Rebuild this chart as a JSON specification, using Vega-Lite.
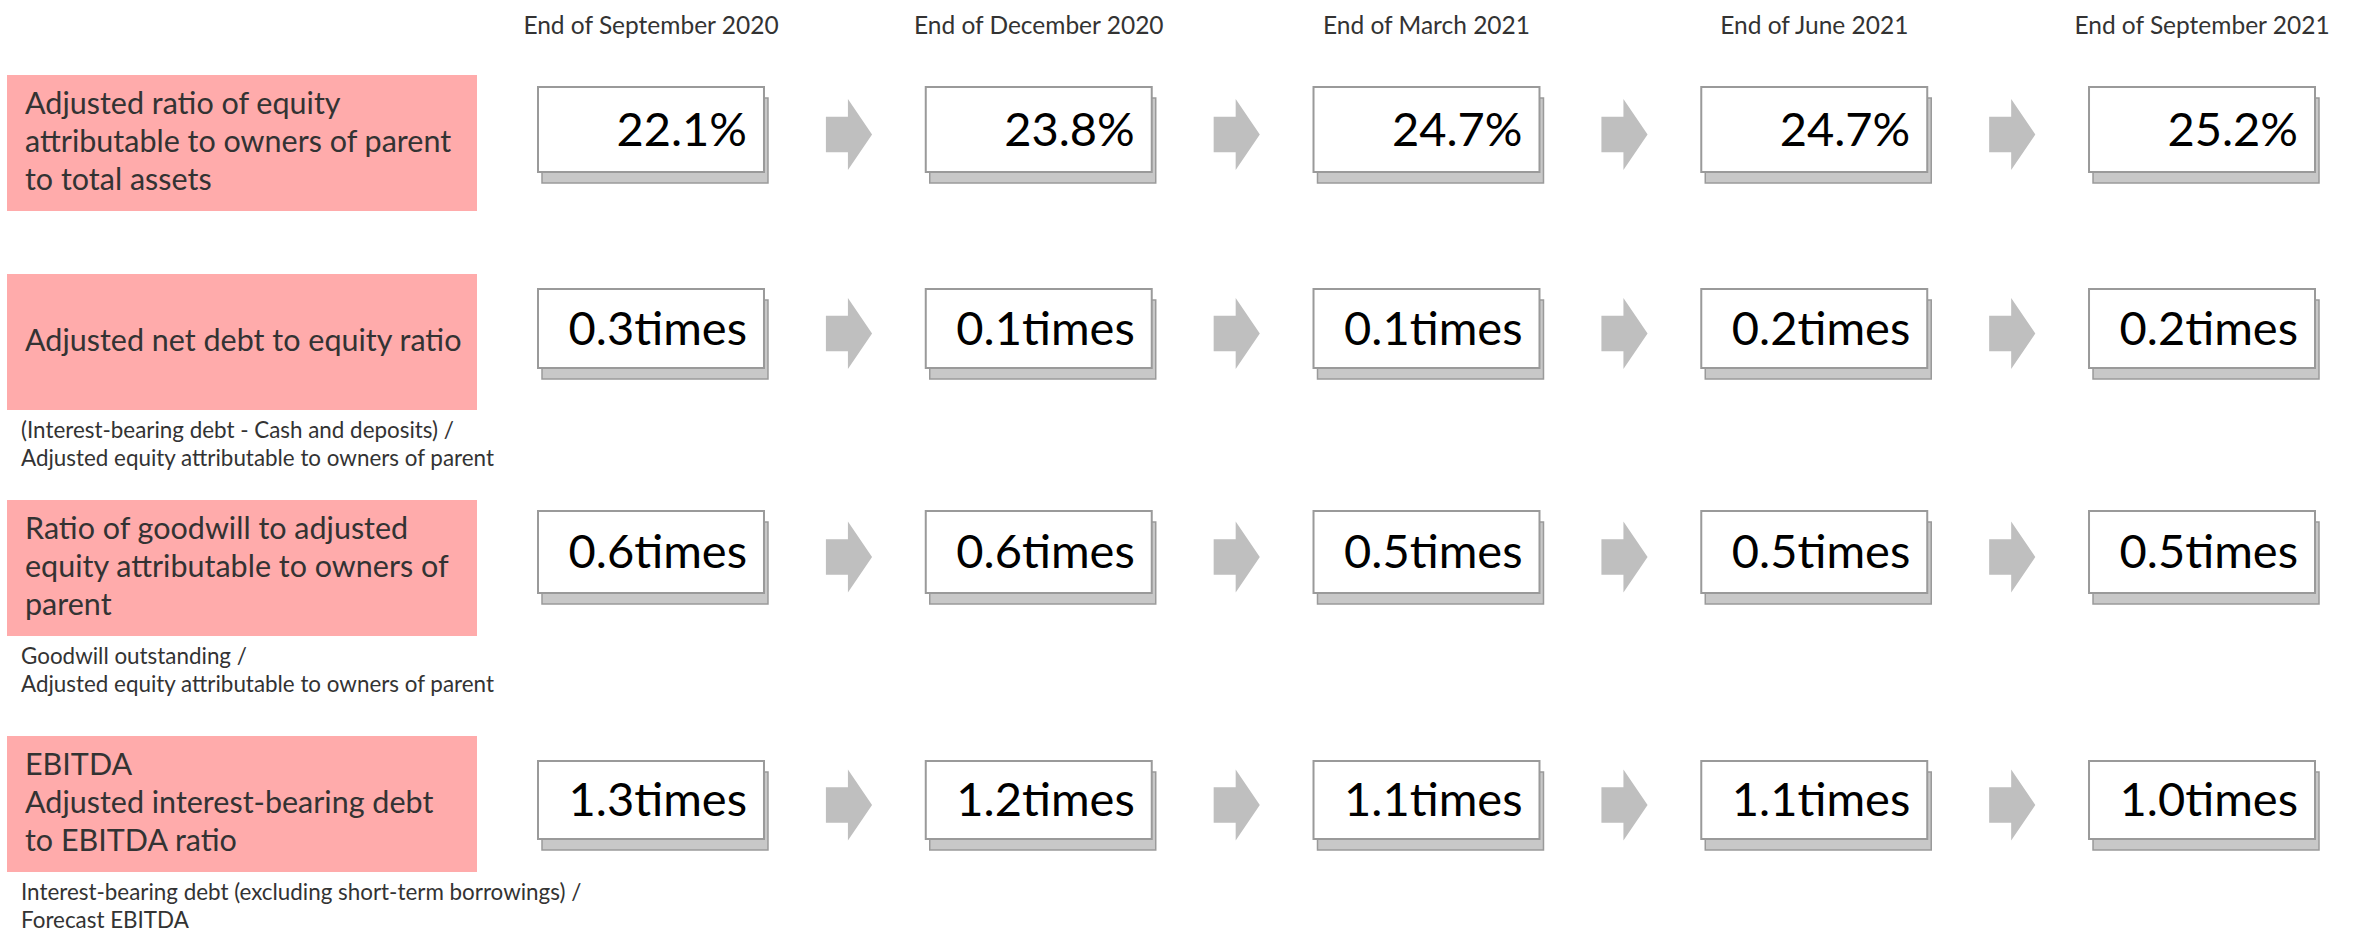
{
  "$schema": "https://vega.github.io/schema/vega-lite/v6.json",
  "background": "white",
  "padding": {"left": 7, "top": 0, "right": 0, "bottom": 0},
  "config": {"view": {"stroke": null}, "concat": {"spacing": 0}},
  "datasets": {
    "metrics": [
      {"metric": "equity", "name": "Adjusted ratio of equity\nattributable to owners of parent\nto total assets", "note": ""},
      {"metric": "netde", "name": "Adjusted net debt to equity ratio", "note": "(Interest-bearing debt - Cash and deposits) /\nAdjusted equity attributable to owners of parent"},
      {"metric": "goodwill", "name": "Ratio of goodwill to adjusted\nequity attributable to owners of\nparent", "note": "Goodwill outstanding /\nAdjusted equity attributable to owners of parent"},
      {"metric": "ebitda", "name": "EBITDA\nAdjusted interest-bearing debt\nto EBITDA ratio", "note": "Interest-bearing debt (excluding short-term borrowings) /\nForecast EBITDA"}
    ],
    "values": [
      {"metric": "equity", "period": "End of September 2020", "value": 22.1, "label": "22.1%"},
      {"metric": "equity", "period": "End of December 2020", "value": 23.8, "label": "23.8%"},
      {"metric": "equity", "period": "End of March 2021", "value": 24.7, "label": "24.7%"},
      {"metric": "equity", "period": "End of June 2021", "value": 24.7, "label": "24.7%"},
      {"metric": "equity", "period": "End of September 2021", "value": 25.2, "label": "25.2%"},
      {"metric": "netde", "period": "End of September 2020", "value": 0.3, "label": "0.3times"},
      {"metric": "netde", "period": "End of December 2020", "value": 0.1, "label": "0.1times"},
      {"metric": "netde", "period": "End of March 2021", "value": 0.1, "label": "0.1times"},
      {"metric": "netde", "period": "End of June 2021", "value": 0.2, "label": "0.2times"},
      {"metric": "netde", "period": "End of September 2021", "value": 0.2, "label": "0.2times"},
      {"metric": "goodwill", "period": "End of September 2020", "value": 0.6, "label": "0.6times"},
      {"metric": "goodwill", "period": "End of December 2020", "value": 0.6, "label": "0.6times"},
      {"metric": "goodwill", "period": "End of March 2021", "value": 0.5, "label": "0.5times"},
      {"metric": "goodwill", "period": "End of June 2021", "value": 0.5, "label": "0.5times"},
      {"metric": "goodwill", "period": "End of September 2021", "value": 0.5, "label": "0.5times"},
      {"metric": "ebitda", "period": "End of September 2020", "value": 1.3, "label": "1.3times"},
      {"metric": "ebitda", "period": "End of December 2020", "value": 1.2, "label": "1.2times"},
      {"metric": "ebitda", "period": "End of March 2021", "value": 1.1, "label": "1.1times"},
      {"metric": "ebitda", "period": "End of June 2021", "value": 1.1, "label": "1.1times"},
      {"metric": "ebitda", "period": "End of September 2021", "value": 1.0, "label": "1.0times"}
    ]
  },
  "spacing": 0,
  "vconcat": [
    {
      "width": 2308, "height": 54,
      "data": {"name": "values"},
      "transform": [{"filter": "datum.metric == 'equity'"}],
      "mark": {"type": "text", "baseline": "middle", "font": "Lato", "fontSize": 24.5, "fill": "#333333"},
      "encoding": {
        "x": {"field": "period", "type": "nominal", "axis": null, "scale": {"type": "band", "domain": ["End of September 2020", "End of December 2020", "End of March 2021", "End of June 2021", "End of September 2021"], "range": [531, 2308], "paddingInner": 0.4172, "paddingOuter": 0}},
        "text": {"field": "period"}
      }
    },
    {
      "bounds": "flush", "spacing": 61,
      "hconcat": [
        {
          "width": 470, "height": 220,
          "data": {"name": "metrics"},
          "transform": [{"filter": "datum.metric == 'equity'"}],
          "encoding": {
            "x": {"field": "metric", "type": "nominal", "axis": null, "scale": {"paddingInner": 0, "paddingOuter": 0}},
            "y": {"field": "metric", "type": "nominal", "axis": null, "scale": {"range": [21, 157], "paddingInner": 0, "paddingOuter": 0}}
          },
          "layer": [
            {"mark": {"type": "rect", "fill": "#ffabab"}},
            {"mark": {"type": "text", "align": "left", "baseline": "middle", "dx": 18, "dy": -38, "font": "Lato", "fontSize": 30.5, "lineHeight": 38, "lineBreak": "\n", "fill": "#333333"},
             "encoding": {"x": {"field": "metric", "type": "nominal", "axis": null, "bandPosition": 0, "scale": {"paddingInner": 0, "paddingOuter": 0}}, "text": {"field": "name"}}}
          ]
        },
        {
          "width": 1777, "height": 220,
          "data": {"name": "values"},
          "transform": [{"filter": "datum.metric == 'equity'"}],
          "encoding": {
            "x": {"field": "period", "type": "nominal", "axis": null, "scale": {"type": "band", "domain": ["End of September 2020", "End of December 2020", "End of March 2021", "End of June 2021", "End of September 2021"], "paddingInner": 0.4172, "paddingOuter": 0}},
            "y": {"field": "metric", "type": "nominal", "axis": null, "scale": {"range": [33, 118], "paddingInner": 0, "paddingOuter": 0}}
          },
          "layer": [
            {"mark": {"type": "rect", "fill": "#c8c8c8", "stroke": "#9a9a9a", "strokeWidth": 1.5, "xOffset": 4, "x2Offset": 4, "yOffset": 11, "y2Offset": 11}},
            {"mark": {"type": "rect", "fill": "white", "stroke": "#9a9a9a", "strokeWidth": 2}},
            {"transform": [{"filter": "datum.period != 'End of September 2021'"}],
             "mark": {"type": "point", "shape": "M -0.65 -0.5 L -0.03 -0.5 L -0.03 -1 L 0.65 0 L -0.03 1 L -0.03 0.5 L -0.65 0.5 Z", "size": 5041, "filled": true, "fill": "#bfbfbf", "strokeWidth": 0, "opacity": 1, "xOffset": 85, "yOffset": 5},
             "encoding": {"x": {"field": "period", "type": "nominal", "axis": null, "bandPosition": 1, "scale": {"type": "band", "domain": ["End of September 2020", "End of December 2020", "End of March 2021", "End of June 2021", "End of September 2021"], "paddingInner": 0.4172, "paddingOuter": 0}}}},
            {"mark": {"type": "text", "align": "right", "baseline": "middle", "dx": -17, "dy": 2, "font": "Lato", "fontSize": 47, "fill": "#000000"},
             "encoding": {"x": {"field": "period", "type": "nominal", "axis": null, "bandPosition": 1, "scale": {"type": "band", "domain": ["End of September 2020", "End of December 2020", "End of March 2021", "End of June 2021", "End of September 2021"], "paddingInner": 0.4172, "paddingOuter": 0}}, "text": {"field": "label"}}}
          ]
        }
      ]
    },
    {
      "bounds": "flush", "spacing": 61,
      "hconcat": [
        {
          "width": 470, "height": 226,
          "data": {"name": "metrics"},
          "transform": [{"filter": "datum.metric == 'netde'"}],
          "encoding": {
            "x": {"field": "metric", "type": "nominal", "axis": null, "scale": {"paddingInner": 0, "paddingOuter": 0}},
            "y": {"field": "metric", "type": "nominal", "axis": null, "scale": {"range": [0, 136], "paddingInner": 0, "paddingOuter": 0}}
          },
          "layer": [
            {"mark": {"type": "rect", "fill": "#ffabab"}},
            {"mark": {"type": "text", "align": "left", "baseline": "middle", "dx": 18, "dy": 0, "font": "Lato", "fontSize": 30.5, "lineHeight": 38, "lineBreak": "\n", "fill": "#333333"},
             "encoding": {"x": {"field": "metric", "type": "nominal", "axis": null, "bandPosition": 0, "scale": {"paddingInner": 0, "paddingOuter": 0}}, "text": {"field": "name"}}},
            {"mark": {"type": "text", "align": "left", "baseline": "top", "dx": 14, "dy": 10, "font": "Lato", "fontSize": 22.4, "lineHeight": 28, "lineBreak": "\n", "fill": "#333333"},
             "encoding": {"x": {"field": "metric", "type": "nominal", "axis": null, "bandPosition": 0, "scale": {"paddingInner": 0, "paddingOuter": 0}},
                          "y": {"field": "metric", "type": "nominal", "axis": null, "bandPosition": 1, "scale": {"range": [0, 136], "paddingInner": 0, "paddingOuter": 0}},
                          "text": {"field": "note"}}}
          ]
        },
        {
          "width": 1777, "height": 226,
          "data": {"name": "values"},
          "transform": [{"filter": "datum.metric == 'netde'"}],
          "encoding": {
            "x": {"field": "period", "type": "nominal", "axis": null, "scale": {"type": "band", "domain": ["End of September 2020", "End of December 2020", "End of March 2021", "End of June 2021", "End of September 2021"], "paddingInner": 0.4172, "paddingOuter": 0}},
            "y": {"field": "metric", "type": "nominal", "axis": null, "scale": {"range": [15, 94], "paddingInner": 0, "paddingOuter": 0}}
          },
          "layer": [
            {"mark": {"type": "rect", "fill": "#c8c8c8", "stroke": "#9a9a9a", "strokeWidth": 1.5, "xOffset": 4, "x2Offset": 4, "yOffset": 11, "y2Offset": 11}},
            {"mark": {"type": "rect", "fill": "white", "stroke": "#9a9a9a", "strokeWidth": 2}},
            {"transform": [{"filter": "datum.period != 'End of September 2021'"}],
             "mark": {"type": "point", "shape": "M -0.65 -0.5 L -0.03 -0.5 L -0.03 -1 L 0.65 0 L -0.03 1 L -0.03 0.5 L -0.65 0.5 Z", "size": 5041, "filled": true, "fill": "#bfbfbf", "strokeWidth": 0, "opacity": 1, "xOffset": 85, "yOffset": 5},
             "encoding": {"x": {"field": "period", "type": "nominal", "axis": null, "bandPosition": 1, "scale": {"type": "band", "domain": ["End of September 2020", "End of December 2020", "End of March 2021", "End of June 2021", "End of September 2021"], "paddingInner": 0.4172, "paddingOuter": 0}}}},
            {"mark": {"type": "text", "align": "right", "baseline": "middle", "dx": -17, "dy": 2, "font": "Lato", "fontSize": 47, "fill": "#000000"},
             "encoding": {"x": {"field": "period", "type": "nominal", "axis": null, "bandPosition": 1, "scale": {"type": "band", "domain": ["End of September 2020", "End of December 2020", "End of March 2021", "End of June 2021", "End of September 2021"], "paddingInner": 0.4172, "paddingOuter": 0}}, "text": {"field": "label"}}}
          ]
        }
      ]
    },
    {
      "bounds": "flush", "spacing": 61,
      "hconcat": [
        {
          "width": 470, "height": 236,
          "data": {"name": "metrics"},
          "transform": [{"filter": "datum.metric == 'goodwill'"}],
          "encoding": {
            "x": {"field": "metric", "type": "nominal", "axis": null, "scale": {"paddingInner": 0, "paddingOuter": 0}},
            "y": {"field": "metric", "type": "nominal", "axis": null, "scale": {"range": [0, 136], "paddingInner": 0, "paddingOuter": 0}}
          },
          "layer": [
            {"mark": {"type": "rect", "fill": "#ffabab"}},
            {"mark": {"type": "text", "align": "left", "baseline": "middle", "dx": 18, "dy": -38, "font": "Lato", "fontSize": 30.5, "lineHeight": 38, "lineBreak": "\n", "fill": "#333333"},
             "encoding": {"x": {"field": "metric", "type": "nominal", "axis": null, "bandPosition": 0, "scale": {"paddingInner": 0, "paddingOuter": 0}}, "text": {"field": "name"}}},
            {"mark": {"type": "text", "align": "left", "baseline": "top", "dx": 14, "dy": 10, "font": "Lato", "fontSize": 22.4, "lineHeight": 28, "lineBreak": "\n", "fill": "#333333"},
             "encoding": {"x": {"field": "metric", "type": "nominal", "axis": null, "bandPosition": 0, "scale": {"paddingInner": 0, "paddingOuter": 0}},
                          "y": {"field": "metric", "type": "nominal", "axis": null, "bandPosition": 1, "scale": {"range": [0, 136], "paddingInner": 0, "paddingOuter": 0}},
                          "text": {"field": "note"}}}
          ]
        },
        {
          "width": 1777, "height": 236,
          "data": {"name": "values"},
          "transform": [{"filter": "datum.metric == 'goodwill'"}],
          "encoding": {
            "x": {"field": "period", "type": "nominal", "axis": null, "scale": {"type": "band", "domain": ["End of September 2020", "End of December 2020", "End of March 2021", "End of June 2021", "End of September 2021"], "paddingInner": 0.4172, "paddingOuter": 0}},
            "y": {"field": "metric", "type": "nominal", "axis": null, "scale": {"range": [11, 93], "paddingInner": 0, "paddingOuter": 0}}
          },
          "layer": [
            {"mark": {"type": "rect", "fill": "#c8c8c8", "stroke": "#9a9a9a", "strokeWidth": 1.5, "xOffset": 4, "x2Offset": 4, "yOffset": 11, "y2Offset": 11}},
            {"mark": {"type": "rect", "fill": "white", "stroke": "#9a9a9a", "strokeWidth": 2}},
            {"transform": [{"filter": "datum.period != 'End of September 2021'"}],
             "mark": {"type": "point", "shape": "M -0.65 -0.5 L -0.03 -0.5 L -0.03 -1 L 0.65 0 L -0.03 1 L -0.03 0.5 L -0.65 0.5 Z", "size": 5041, "filled": true, "fill": "#bfbfbf", "strokeWidth": 0, "opacity": 1, "xOffset": 85, "yOffset": 5},
             "encoding": {"x": {"field": "period", "type": "nominal", "axis": null, "bandPosition": 1, "scale": {"type": "band", "domain": ["End of September 2020", "End of December 2020", "End of March 2021", "End of June 2021", "End of September 2021"], "paddingInner": 0.4172, "paddingOuter": 0}}}},
            {"mark": {"type": "text", "align": "right", "baseline": "middle", "dx": -17, "dy": 2, "font": "Lato", "fontSize": 47, "fill": "#000000"},
             "encoding": {"x": {"field": "period", "type": "nominal", "axis": null, "bandPosition": 1, "scale": {"type": "band", "domain": ["End of September 2020", "End of December 2020", "End of March 2021", "End of June 2021", "End of September 2021"], "paddingInner": 0.4172, "paddingOuter": 0}}, "text": {"field": "label"}}}
          ]
        }
      ]
    },
    {
      "bounds": "flush", "spacing": 61,
      "hconcat": [
        {
          "width": 470, "height": 198,
          "data": {"name": "metrics"},
          "transform": [{"filter": "datum.metric == 'ebitda'"}],
          "encoding": {
            "x": {"field": "metric", "type": "nominal", "axis": null, "scale": {"paddingInner": 0, "paddingOuter": 0}},
            "y": {"field": "metric", "type": "nominal", "axis": null, "scale": {"range": [0, 136], "paddingInner": 0, "paddingOuter": 0}}
          },
          "layer": [
            {"mark": {"type": "rect", "fill": "#ffabab"}},
            {"mark": {"type": "text", "align": "left", "baseline": "middle", "dx": 18, "dy": -38, "font": "Lato", "fontSize": 30.5, "lineHeight": 38, "lineBreak": "\n", "fill": "#333333"},
             "encoding": {"x": {"field": "metric", "type": "nominal", "axis": null, "bandPosition": 0, "scale": {"paddingInner": 0, "paddingOuter": 0}}, "text": {"field": "name"}}},
            {"mark": {"type": "text", "align": "left", "baseline": "top", "dx": 14, "dy": 10, "font": "Lato", "fontSize": 22.4, "lineHeight": 28, "lineBreak": "\n", "fill": "#333333"},
             "encoding": {"x": {"field": "metric", "type": "nominal", "axis": null, "bandPosition": 0, "scale": {"paddingInner": 0, "paddingOuter": 0}},
                          "y": {"field": "metric", "type": "nominal", "axis": null, "bandPosition": 1, "scale": {"range": [0, 136], "paddingInner": 0, "paddingOuter": 0}},
                          "text": {"field": "note"}}}
          ]
        },
        {
          "width": 1777, "height": 198,
          "data": {"name": "values"},
          "transform": [{"filter": "datum.metric == 'ebitda'"}],
          "encoding": {
            "x": {"field": "period", "type": "nominal", "axis": null, "scale": {"type": "band", "domain": ["End of September 2020", "End of December 2020", "End of March 2021", "End of June 2021", "End of September 2021"], "paddingInner": 0.4172, "paddingOuter": 0}},
            "y": {"field": "metric", "type": "nominal", "axis": null, "scale": {"range": [25, 103], "paddingInner": 0, "paddingOuter": 0}}
          },
          "layer": [
            {"mark": {"type": "rect", "fill": "#c8c8c8", "stroke": "#9a9a9a", "strokeWidth": 1.5, "xOffset": 4, "x2Offset": 4, "yOffset": 11, "y2Offset": 11}},
            {"mark": {"type": "rect", "fill": "white", "stroke": "#9a9a9a", "strokeWidth": 2}},
            {"transform": [{"filter": "datum.period != 'End of September 2021'"}],
             "mark": {"type": "point", "shape": "M -0.65 -0.5 L -0.03 -0.5 L -0.03 -1 L 0.65 0 L -0.03 1 L -0.03 0.5 L -0.65 0.5 Z", "size": 5041, "filled": true, "fill": "#bfbfbf", "strokeWidth": 0, "opacity": 1, "xOffset": 85, "yOffset": 5},
             "encoding": {"x": {"field": "period", "type": "nominal", "axis": null, "bandPosition": 1, "scale": {"type": "band", "domain": ["End of September 2020", "End of December 2020", "End of March 2021", "End of June 2021", "End of September 2021"], "paddingInner": 0.4172, "paddingOuter": 0}}}},
            {"mark": {"type": "text", "align": "right", "baseline": "middle", "dx": -17, "dy": 2, "font": "Lato", "fontSize": 47, "fill": "#000000"},
             "encoding": {"x": {"field": "period", "type": "nominal", "axis": null, "bandPosition": 1, "scale": {"type": "band", "domain": ["End of September 2020", "End of December 2020", "End of March 2021", "End of June 2021", "End of September 2021"], "paddingInner": 0.4172, "paddingOuter": 0}}, "text": {"field": "label"}}}
          ]
        }
      ]
    }
  ]
}
